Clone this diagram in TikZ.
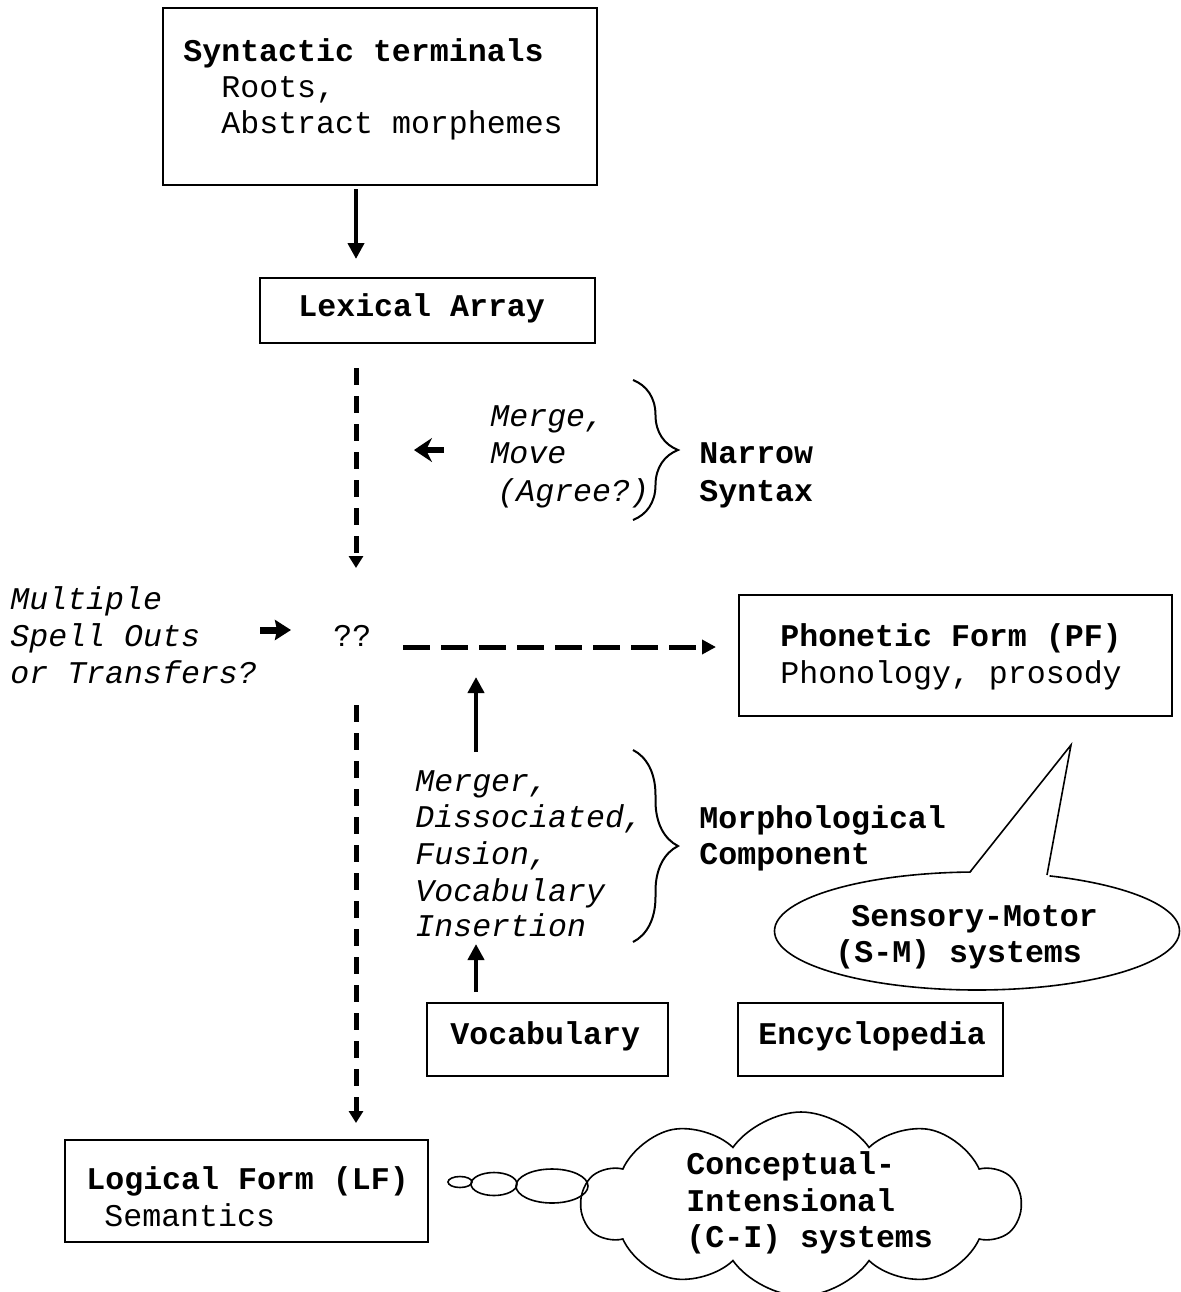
\documentclass[tikz,border=0pt]{standalone}
\usepackage{fontspec}
\setmainfont{Liberation Mono}
\usetikzlibrary{arrows.meta,shapes.geometric,shapes.symbols,decorations.pathreplacing,fit}
\newcommand{\fsz}{\fontsize{15.8}{18}\selectfont}
\begin{document}
\begin{tikzpicture}[x=0.5pt,y=-0.5pt,
 box/.style={draw,line width=1pt,inner sep=0pt},
 txt/.style={anchor=base west,inner sep=0pt,font=\fsz},
 itx/.style={txt,font=\fsz\itshape},
 btx/.style={txt,font=\fsz\bfseries},
 solidarr/.style={line width=2.2pt,-{Triangle[width=8pt,length=8pt]}},
 dasharr/.style={line width=2.5pt,dash pattern=on 8.5pt off 5.5pt,-{Triangle[width=7pt,length=6pt]}},
 hdasharr/.style={line width=2.5pt,dash pattern=on 13.5pt off 5.5pt,-{Triangle[width=7pt,length=7pt]}},
 heavyarr/.style={line width=3.5pt,-{Stealth[width=10pt,length=8pt,inset=1pt]}},
 brc/.style={decorate,decoration={brace,amplitude=22.5pt},line width=1pt},
 thin/.style={draw,line width=0.8pt}]
\useasboundingbox[fill=white] (0,0) rectangle (1180,1292);

% boxes
\node[box,fit={(163,8) (597,185)}] (st) {};
\node[box,fit={(260,278) (595,343)}] (la) {};
\node[box,fit={(739,595) (1172,716)}] (pf) {};
\node[box,fit={(427,1003) (668,1076)}] (voc) {};
\node[box,fit={(738,1003) (1003,1076)}] (enc) {};
\node[box,fit={(65,1140) (428,1242)}] (lf) {};

% box texts
\node[btx] (st1) at (183,61) {Syntactic terminals};
\node[txt] (st2) at (221,97) {Roots,};
\node[txt] (st3) at (221,133) {Abstract morphemes};
\node[btx] (la1) at (298,316) {Lexical Array};
\node[btx] (pf1) at (780,646) {Phonetic Form (PF)};
\node[txt] (pf2) at (780,683) {Phonology, prosody};
\node[btx] (voc1) at (450,1044) {Vocabulary};
\node[btx] (enc1) at (758,1044) {Encyclopedia};
\node[btx] (lf1) at (86,1189) {Logical Form (LF)};
\node[txt] (lf2) at (104,1226) {Semantics};

% narrow syntax
\node[itx] (ns1) at (490,426) {Merge,};
\node[itx] (ns2) at (490,463) {Move};
\node[itx] (ns3) at (497,501) {(Agree?)};
\draw[brc] (633,380) -- (633,520);
\node[btx] (ns4) at (699,463) {Narrow};
\node[btx] (ns5) at (699,501) {Syntax};

% spell out
\node[itx] (so1) at (10,609) {Multiple};
\node[itx] (so2) at (10,646) {Spell Outs};
\node[itx] (so3) at (10,683) {or Transfers?};
\node[txt] (qq) at (333,646) {??};

% morphological component
\node[itx] (mc1) at (415,791) {Merger,};
\node[itx] (mc2) at (415,827) {Dissociated,};
\node[itx] (mc3) at (415,864) {Fusion,};
\node[itx] (mc4) at (415,901) {Vocabulary};
\node[itx] (mc5) at (415,936) {Insertion};
\draw[brc] (633,750) -- (633,942);
\node[btx] (mc6) at (699,828) {Morphological};
\node[btx] (mc7) at (699,864) {Component};

% arrows
\coordinate (a1s) at (356,189); \coordinate (a1e) at (356,259);
\draw[solidarr] (a1s) -- (a1e);
\coordinate (d1s) at (356,368); \coordinate (d1e) at (356,568);
\draw[dasharr] (d1s) -- (d1e);
\coordinate (d2s) at (403,647); \coordinate (d2e) at (716,647);
\draw[hdasharr] (d2s) -- (d2e);
\coordinate (d3s) at (356,705); \coordinate (d3e) at (356,1123);
\draw[dasharr] (d3s) -- (d3e);
\coordinate (u1s) at (476,752); \coordinate (u1e) at (476,677);
\draw[solidarr] (u1s) -- (u1e);
\coordinate (u2s) at (476,992); \coordinate (u2e) at (476,944);
\draw[solidarr] (u2s) -- (u2e);
\coordinate (l1s) at (444,450); \coordinate (l1e) at (414,450);
\draw[line width=3.2pt,-{Stealth[width=12pt,length=9pt,inset=3pt]}] (l1s) -- (l1e);
\coordinate (r1s) at (260,630); \coordinate (r1e) at (291,630);
\draw[heavyarr] (r1s) -- (r1e);

% speech bubble
\node[ellipse,thin,fill=white,minimum width=202.5pt,minimum height=59pt,inner sep=0pt] (sm) at (977,931) {};
\fill[white] (968,876) -- (1071,745) -- (1049,879) -- cycle;
\coordinate (t1) at (970,872); \coordinate (t2) at (1071,745); \coordinate (t3) at (1047,875);
\draw[line width=0.8pt,line join=miter] (t1) -- (t2) -- (t3);
\node[btx] (sm1) at (851,926) {Sensory-Motor};
\node[btx] (sm2) at (835,962) {(S-M) systems};

% thought bubble
\node[ellipse,thin,minimum width=12pt,minimum height=5.5pt,inner sep=0pt] (e1) at (460,1182) {};
\node[ellipse,thin,minimum width=23pt,minimum height=11.5pt,inner sep=0pt] (e2) at (494,1184) {};
\node[ellipse,thin,minimum width=36pt,minimum height=17pt,inner sep=0pt] (e3) at (552,1186) {};
\node[cloud,thin,cloud puffs=10,cloud puff arc=110,minimum width=219pt,minimum height=92pt,inner sep=0pt] (ci) at (801,1204) {};
\node[btx] (ci1) at (686,1174) {Conceptual-};
\node[btx] (ci2) at (686,1211) {Intensional};
\node[btx] (ci3) at (686,1247) {(C-I) systems};
\end{tikzpicture}
\end{document}
